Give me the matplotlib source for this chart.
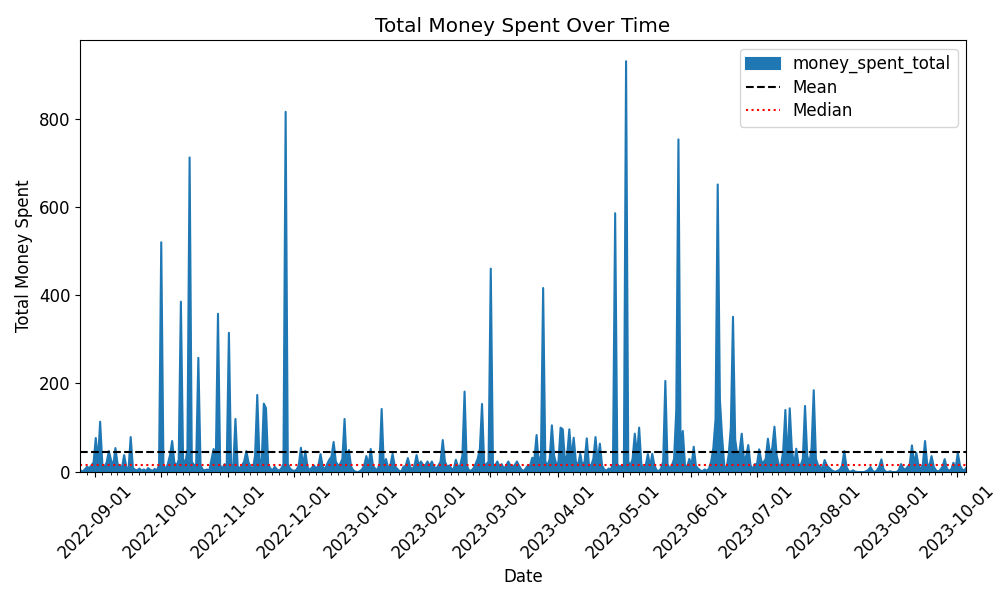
import numpy as np
import pandas as pd
import matplotlib
matplotlib.use("Agg")
import matplotlib.pyplot as plt
import matplotlib.dates as mdates

# daily totals, one list per month
aug_2022 = [4, 1, 6, 12, 9, 15, 22]  # from the 25th
sep_2022 = [77.3, 24, 114.3, 18, 12, 22, 47.7, 27, 14, 54.5, 18, 15, 9, 38.6, 11,
            6, 79.5, 10, 5, 4, 8, 3, 6, 2, 9, 5, 3, 7, 4, 15]
oct_2022 = [521.2, 15, 7, 18, 38, 70.5, 22, 14, 28, 386.4, 30, 18, 52, 713.6, 24,
            15, 18, 259.1, 15, 6, 4, 6, 3, 28, 52.3, 24, 359.1, 15, 8, 18, 12]
nov_2022 = [315.9, 18, 12, 120.5, 14, 8, 15, 24, 47.7, 22, 12, 6, 38, 175, 30,
            18, 155.3, 145, 18, 8, 4, 12, 6, 3, 8, 18, 817, 18, 8, 4]
dec_2022 = [3, 5, 15, 55.2, 14, 48, 12, 4, 10, 15, 8, 14, 40.9, 12, 6,
            18, 28, 35, 68.2, 24, 15, 18, 30, 120.5, 15, 50, 12, 4, 1, 0, 2]
jan_2023 = [6, 15, 36.4, 15, 52.3, 14, 8, 4, 18, 143.2, 12, 29.6, 9, 15, 41.6,
            14, 8, 3, 1, 12, 14, 31.8, 12, 6, 14, 38.6, 15, 24, 16, 15, 24]
feb_2023 = [14, 24, 12, 8, 15, 24, 72.7, 24, 12, 15, 8, 6, 28, 12, 15,
            38, 182.6, 15, 4, 3, 8, 18, 30, 52, 154.5, 15, 18, 24]
mar_2023 = [461.4, 18, 15, 24, 12, 18, 8, 14, 24, 15, 12, 16, 24, 14, 6,
            2, 8, 15, 14, 32.5, 30, 84.1, 18, 38, 417.5, 24, 15, 30, 106.1, 38, 18]
apr_2023 = [22, 100.8, 97, 24, 38, 97, 30, 78, 24, 15, 42, 14, 24, 76.5, 16,
            15, 30, 79.5, 24, 64.4, 15, 6, 3, 8, 6, 18, 587.1, 18, 12, 15]
may_2023 = [16, 931.8, 24, 15, 30, 87.1, 38, 100.8, 18, 8, 15, 40.9, 12, 41.6, 15,
            4, 2, 8, 24, 206.8, 18, 8, 15, 30, 140, 754.5, 38, 93.2, 16, 12, 30]
jun_2023 = [15, 57.5, 14, 8, 4, 2, 6, 3, 8, 24, 55, 120, 652.3, 163.6, 80,
            15, 8, 38, 100, 352.3, 74.3, 38, 48, 87.1, 30, 35, 61.4, 16, 6, 18]
jul_2023 = [18, 51.6, 24, 22, 30, 75.7, 38, 55, 103, 38, 16, 15, 48, 140.9, 18,
            144.7, 48, 16, 53, 18, 15, 30, 150, 38, 18, 55, 185.6, 30, 15, 12, 8]
aug_2023 = [27.3, 15, 10, 5, 2, 1, 3, 6, 15, 47.7, 12, 2, 1, 4, 1,
            0, 0, 0, 0, 2, 5, 11.4, 3, 0, 4, 12, 28.8, 6, 1, 0, 2]
sep_2023 = [0, 0, 0, 5, 18.2, 8, 6, 12, 18, 60.6, 18, 43.9, 15, 6, 18,
            70.5, 18, 15, 36.4, 12, 4, 1, 5, 12, 29.5, 8, 3, 6, 21.2, 8]
oct_2023 = [43.9, 15, 6, 4, 10]

months = [aug_2022, sep_2022, oct_2022, nov_2022, dec_2022, jan_2023, feb_2023, mar_2023,
          apr_2023, may_2023, jun_2023, jul_2023, aug_2023, sep_2023, oct_2023]
money_spent_total = np.concatenate(months)
dates = pd.date_range("2022-08-25", periods=len(money_spent_total), freq="D")

y_ticks = [0, 200, 400, 600, 800]

mean_val = money_spent_total.mean()
median_val = np.median(money_spent_total)

fig, ax = plt.subplots(figsize=(10, 6), dpi=100)
ax.fill_between(dates, money_spent_total, 0, color='#1f77b4', edgecolor='#1f77b4',
                linewidth=1.5, label='money_spent_total')
ax.axhline(mean_val, color='black', linestyle='--', linewidth=1.5, label='Mean')
ax.axhline(median_val, color='red', linestyle=':', linewidth=1.5, label='Median')

ax.set_xlim(dates[0], dates[-1])
ax.set_ylim(0, money_spent_total.max() * 1.05)
ax.set_yticks(y_ticks)
ax.tick_params(axis='both', labelsize=12)

ax.xaxis.set_major_locator(mdates.MonthLocator())
ax.xaxis.set_major_formatter(mdates.DateFormatter('%Y-%m-%d'))
ax.xaxis.set_minor_locator(mdates.DayLocator(bymonthday=[4, 8, 11, 14, 18, 21, 24, 28]))
plt.setp(ax.get_xticklabels(), rotation=45)

ax.set_title('Total Money Spent Over Time', fontsize=14.4)
ax.set_xlabel('Date', fontsize=12)
ax.set_ylabel('Total Money Spent', fontsize=12)
ax.legend(loc='upper right', fontsize=12, labelspacing=0.32)

plt.subplots_adjust(left=0.08, right=0.966, top=0.933, bottom=0.214)
plt.savefig('out.png')
